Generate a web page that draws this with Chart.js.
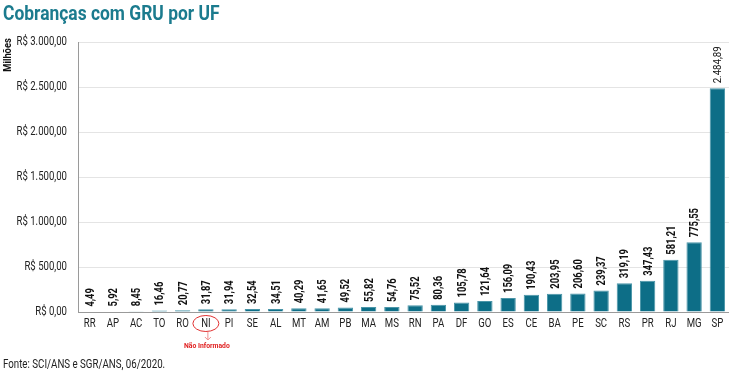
<!DOCTYPE html>
<html><head><meta charset="utf-8">
<script src="https://cdn.jsdelivr.net/npm/chart.js@4/dist/chart.umd.min.js"></script>
<style>html,body{margin:0;padding:0;background:#fff}canvas{display:block}</style>
</head><body>
<canvas id="c" width="729" height="372"></canvas>
<script>
const categories = ["RR","AP","AC","TO","RO","NI","PI","SE","AL","MT","AM","PB","MA","MS","RN","PA","DF","GO","ES","CE","BA","PE","SC","RS","PR","RJ","MG","SP"];
const values = [4.49,5.92,8.45,16.46,20.77,31.87,31.94,32.54,34.51,40.29,41.65,49.52,55.82,54.76,75.52,80.36,105.78,121.64,156.09,190.43,203.95,206.60,239.37,319.19,347.43,581.21,775.55,2484.89];
const yTicks = [0,500,1000,1500,2000,2500,3000];
const titleText = "Cobranças com GRU por UF";
const yTitle = "Milhões";
const sourceText = "Fonte: SCI/ANS e SGR/ANS, 06/2020.";
const noteCategory = "NI";
const noteText = "Não Informado";

const FONT = 'Roboto,"Liberation Sans",sans-serif';
function fmt(v){
  const s = v.toFixed(2).split('.');
  const int = s[0].replace(/\B(?=(\d{3})+(?!\d))/g,'.');
  return int + ',' + s[1];
}
function txt(ctx, str, x, y, font, color, align, base, sx, rot){
  ctx.save();
  ctx.translate(x, y);
  if (rot) ctx.rotate(rot);
  ctx.scale(sx, 1);
  ctx.font = font;
  ctx.fillStyle = color;
  ctx.textAlign = align;
  ctx.textBaseline = base;
  ctx.fillText(str, 0, 0);
  ctx.restore();
}

const annot = {
  id:'annot',
  afterDatasetsDraw(chart){
    const ctx = chart.ctx;
    const meta = chart.getDatasetMeta(0);
    meta.data.forEach((bar,i)=>{
      const last = i === values.length-1;
      txt(ctx, fmt(values[i]), bar.x+1, bar.y-5,
          (last ? '11px ' : 'bold 12px ') + FONT, '#111', 'left', 'middle', last ? 0.88 : 0.78, -Math.PI/2);
    });
  },
  afterDraw(chart){
    const ctx = chart.ctx;
    const xs = chart.scales.x, ys = chart.scales.y;
    categories.forEach((c,i)=>{
      txt(ctx, c, xs.getPixelForValue(i), 324, '12px ' + FONT, '#222', 'center', 'middle', 0.8, 0);
    });
    yTicks.forEach(v=>{
      txt(ctx, 'R$ ' + fmt(v), 67, ys.getPixelForValue(v), '12px ' + FONT, '#222', 'right', 'middle', 0.8, 0);
    });
    txt(ctx, titleText, 3, 20, 'bold 21px ' + FONT, '#1b7b8e', 'left', 'alphabetic', 0.83, 0);
    txt(ctx, yTitle, 8, 55, 'bold 11px ' + FONT, '#111', 'center', 'middle', 0.85, -Math.PI/2);
    txt(ctx, sourceText, 3, 365, '12px ' + FONT, '#222', 'left', 'middle', 0.81, 0);
    const idx = categories.indexOf(noteCategory);
    const cx = xs.getPixelForValue(idx);
    ctx.save();
    ctx.strokeStyle = '#e03030';
    ctx.lineWidth = 1;
    ctx.beginPath();
    ctx.ellipse(cx, 323.5, 13, 8, 0, 0, Math.PI*2);
    ctx.stroke();
    ctx.strokeStyle = '#f09090';
    ctx.beginPath();
    ctx.moveTo(cx+2, 332); ctx.lineTo(cx+2, 340);
    ctx.moveTo(cx-1, 337); ctx.lineTo(cx+2, 340); ctx.lineTo(cx+5, 337);
    ctx.stroke();
    ctx.restore();
    txt(ctx, noteText, cx+1, 346, 'bold 8px ' + FONT, '#e02020', 'center', 'middle', 0.85, 0);
  }
};

new Chart(document.getElementById('c'), {
  type:'bar',
  data:{labels:categories, datasets:[{data:values, backgroundColor:'#0d6e87', borderColor:'#4a95a8', borderWidth:{top:1,left:1,right:1,bottom:0}, categoryPercentage:1, barPercentage:0.66}]},
  options:{
    responsive:false, animation:false,
    layout:{padding:{top:42,left:0,right:0,bottom:0}},
    plugins:{legend:{display:false}, tooltip:{enabled:false}, title:{display:false}},
    scales:{
      x:{
        grid:{display:false, drawTicks:false},
        border:{display:true, color:'#9a9a9a', width:1},
        ticks:{display:false, autoSkip:false},
        afterFit(s){ s.height = 60; }
      },
      y:{
        min:0, max:3000,
        afterBuildTicks(s){ s.ticks = yTicks.map(v=>({value:v})); },
        grid:{color:'#e4e4e4', drawTicks:false},
        border:{display:true, color:'#9a9a9a', width:1},
        ticks:{display:false},
        afterFit(s){ s.width = 78; }
      }
    }
  },
  plugins:[annot]
});
</script>
</body></html>
